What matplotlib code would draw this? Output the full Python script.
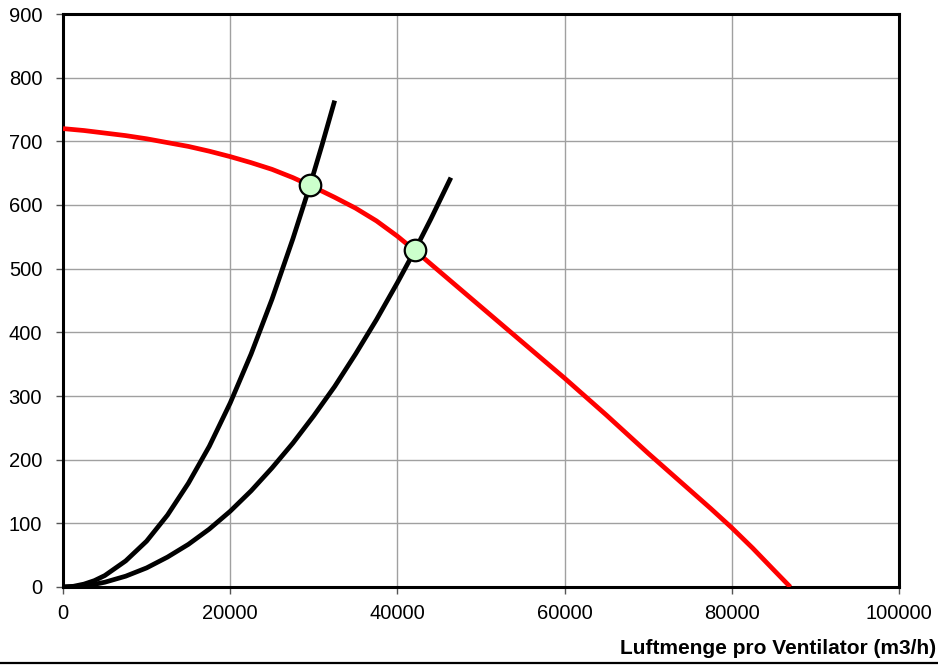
import matplotlib
matplotlib.use("Agg")
import matplotlib.pyplot as plt
from matplotlib.lines import Line2D

# Fan curve (red)
fan_x = [0, 2500, 5000, 7500, 10000, 12500, 15000, 17500, 20000, 22500,
         25000, 27500, 30000, 32500, 35000, 37500, 40000, 42500, 45000, 47500,
         50000, 52500, 55000, 57500, 60000, 62500, 65000, 67500, 70000, 72500,
         75000, 77500, 80000, 82500, 85000, 87000]
fan_y = [720, 717, 713, 709, 704, 698, 692, 684.5, 676, 666.5,
         656, 643, 628, 612, 595, 575, 551, 524, 496, 468,
         440, 412, 384, 356, 328, 299, 270, 240, 210, 181,
         152, 123, 93, 61, 27, 0]

# System curve 1 (steep)
sys1_x = [0, 1250, 2500, 3750, 5000, 7500, 10000, 12500, 15000, 17500, 20000,
          22500, 25000, 27500, 29550, 31000, 32500]
sys1_y = [0, 1.1, 4.5, 10, 18, 41, 72, 113, 163, 221, 289,
          366, 452, 547, 631, 695, 764]

# System curve 2 (flatter)
sys2_x = [0, 1250, 2500, 3750, 5000, 7500, 10000, 12500, 15000, 17500, 20000,
          22500, 25000, 27500, 30000, 32500, 35000, 37500, 40000, 42100, 44000, 46400]
sys2_y = [0, 0.5, 1.9, 4.2, 7.5, 17, 30, 47, 67, 91, 119,
          151, 187, 226, 269, 315, 366, 420, 478, 529, 578, 643]

# Operating points
op_x = [29550, 42100]
op_y = [631, 529]

x_ticks = [0, 20000, 40000, 60000, 80000, 100000]
y_ticks = [0, 100, 200, 300, 400, 500, 600, 700, 800, 900]
x_label = "Luftmenge pro Ventilator (m3/h)"

plt.rcParams['font.family'] = ['Liberation Sans', 'DejaVu Sans']

fig = plt.figure(figsize=(9.38, 6.65), dpi=100)
ax = fig.add_axes([63/938, 1-587/665, (899-63)/938, (587-14)/665])

ax.plot(sys1_x, sys1_y, color='black', lw=3.4, zorder=3, solid_capstyle='butt',
        solid_joinstyle='round')
ax.plot(sys2_x, sys2_y, color='black', lw=3.4, zorder=3, solid_capstyle='butt',
        solid_joinstyle='round')
ax.plot(fan_x, fan_y, color='#ff0000', lw=3.4, zorder=4, solid_capstyle='butt',
        solid_joinstyle='round')
ax.plot(op_x, op_y, linestyle='none', marker='o', markersize=15.5,
        markerfacecolor='#ccffcc', markeredgecolor='black', markeredgewidth=1.6, zorder=5)

ax.set_xlim(0, 100000)
ax.set_ylim(0, 900)
ax.set_xticks(x_ticks)
ax.set_yticks(y_ticks)
ax.set_xticklabels([str(v) for v in x_ticks])
ax.set_yticklabels([str(v) for v in y_ticks])
ax.grid(True, color='#a0a0a0', lw=1.0, zorder=0)
ax.set_axisbelow(True)
for s in ax.spines.values():
    s.set_linewidth(2.2)
    s.set_color('black')
ax.tick_params(axis='both', direction='out', length=5, width=1, color='#555555',
               labelsize=14.5, labelcolor='black')
ax.tick_params(axis='y', pad=10)
ax.tick_params(axis='x', pad=7)

fig.text(936/938, 1-649/665, x_label, ha='right', va='center',
         fontsize=15, fontweight='bold')
fig.add_artist(Line2D([0, 1], [1-663/665, 1-663/665], transform=fig.transFigure,
                      color='black', lw=1.6))

fig.savefig("out.png", dpi=100)
